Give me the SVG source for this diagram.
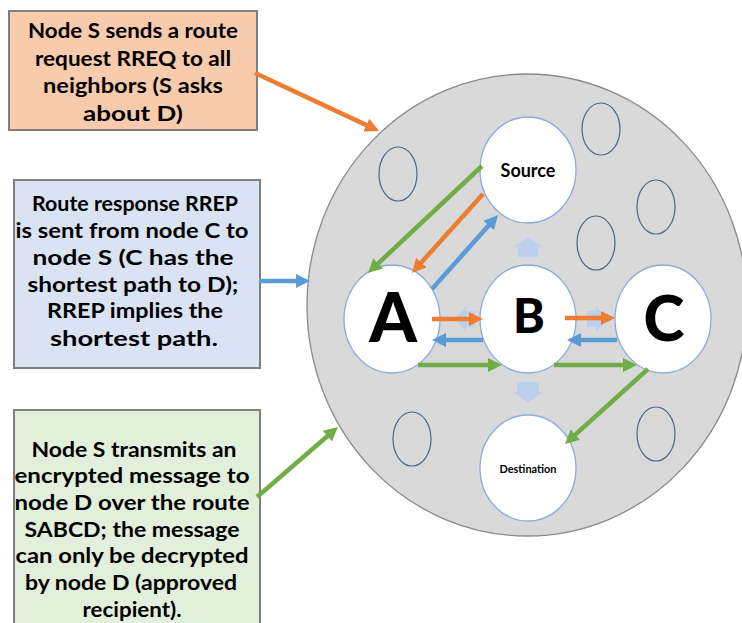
<svg xmlns="http://www.w3.org/2000/svg" width="742" height="623" viewBox="0 0 742 623">
  <style>
    .box { stroke: #7f7f7f; stroke-width: 2; }
    .note { font-family: Lato, "Open Sans", "Liberation Sans", sans-serif; font-weight: 700; font-size: 21px; fill: #000; text-anchor: middle; }
    .node { fill: #ffffff; stroke: #8eaadb; stroke-width: 1.3; }
    .peer { fill: none; stroke: #4a6788; stroke-width: 1.2; }
    .label { font-family: Lato, "Open Sans", "Liberation Sans", sans-serif; font-weight: 700; fill: #000; text-anchor: middle; }
    .big { font-weight: 900; }
    .hint { fill: #bccfec; }
    .c-or { stroke: #ed7d31; stroke-width: 4.5; fill: none; marker-end: url(#head-or); }
    .c-bl { stroke: #5b9bd5; stroke-width: 4.5; fill: none; marker-end: url(#head-bl); }
    .c-gr { stroke: #70ad47; stroke-width: 4.5; fill: none; marker-end: url(#head-gr); }
  </style>
  <defs>
    <marker id="head-or" viewBox="0 0 14 14" refX="6" refY="7" markerWidth="14" markerHeight="14" markerUnits="userSpaceOnUse" orient="auto">
      <path d="M0,0 L14,7 L0,14 z" fill="#ed7d31"/>
    </marker>
    <marker id="head-bl" viewBox="0 0 14 14" refX="6" refY="7" markerWidth="14" markerHeight="14" markerUnits="userSpaceOnUse" orient="auto">
      <path d="M0,0 L14,7 L0,14 z" fill="#5b9bd5"/>
    </marker>
    <marker id="head-gr" viewBox="0 0 14 14" refX="6" refY="7" markerWidth="14" markerHeight="14" markerUnits="userSpaceOnUse" orient="auto">
      <path d="M0,0 L14,7 L0,14 z" fill="#70ad47"/>
    </marker>
  </defs>

  <rect width="742" height="623" fill="#ffffff"/>

  <!-- network area -->
  <g id="network">
    <ellipse cx="527" cy="305" rx="220" ry="231" fill="#d9d9d9" stroke="#8a8a8a" stroke-width="1.3"/>
  </g>

  <!-- idle peers -->
  <g id="peers">
    <ellipse class="peer" cx="398" cy="174" rx="19" ry="27"/>
    <ellipse class="peer" cx="601" cy="129" rx="19" ry="26"/>
    <ellipse class="peer" cx="656" cy="207" rx="19" ry="27"/>
    <ellipse class="peer" cx="596" cy="243" rx="19" ry="27"/>
    <ellipse class="peer" cx="412" cy="439" rx="19" ry="27" fill="#cfcdcd"/>
    <ellipse class="peer" cx="656" cy="434" rx="19" ry="27"/>
  </g>

  <!-- broadcast hints -->
  <g id="hints">
    <path class="hint" d="M528,237 L543,247 L538,247 L538,257 L518,257 L518,247 L513,247 z"/>
    <path class="hint" d="M517,382 L539,382 L539,392 L543,392 L528,403 L513,392 L517,392 z"/>
    <path class="hint" d="M455,319 L466,306 L466,311 L475,311 L475,327 L466,327 L466,332 z"/>
    <path class="hint" d="M607,319 L596,306 L596,311 L587,311 L587,327 L596,327 L596,332 z"/>
  </g>

  <!-- nodes -->
  <g id="node-source">
    <ellipse class="node" cx="528" cy="170" rx="48" ry="53"/>
    <text class="label" x="528" y="177" font-size="18">Source</text>
  </g>
  <g id="node-a">
    <ellipse class="node" cx="392" cy="319" rx="48" ry="54"/>
    <text class="label big" x="393" y="342" font-size="68">A</text>
  </g>
  <g id="node-b">
    <ellipse class="node" cx="528" cy="319" rx="48" ry="54"/>
    <text class="label big" x="529" y="333" font-size="48">B</text>
  </g>
  <g id="node-c">
    <ellipse class="node" cx="663" cy="319" rx="48" ry="54"/>
    <text class="label big" x="664" y="341" font-size="62">C</text>
  </g>
  <g id="node-destination">
    <ellipse class="node" cx="528" cy="468" rx="48" ry="53"/>
    <text class="label" x="528" y="473" font-size="12" textLength="57" lengthAdjust="spacingAndGlyphs">Destination</text>
  </g>

  <!-- notes -->
  <g id="note-rreq">
    <rect class="box" x="9" y="11" width="248" height="119" fill="#f8cbad"/>
    <text class="note" x="133" y="38" textLength="210" lengthAdjust="spacingAndGlyphs">Node S sends a route</text>
    <text class="note" x="133" y="66" textLength="196" lengthAdjust="spacingAndGlyphs">request RREQ to all</text>
    <text class="note" x="133" y="93" textLength="180" lengthAdjust="spacingAndGlyphs">neighbors (S asks</text>
    <text class="note" x="133" y="121" textLength="100" lengthAdjust="spacingAndGlyphs">about D)</text>
  </g>
  <g id="note-rrep">
    <rect class="box" x="14" y="180" width="246" height="188" fill="#dae3f3"/>
    <text class="note" x="135" y="211" textLength="206" lengthAdjust="spacingAndGlyphs">Route response RREP</text>
    <text class="note" x="132" y="238" textLength="233" lengthAdjust="spacingAndGlyphs">is sent from node C to</text>
    <text class="note" x="133" y="265" textLength="201" lengthAdjust="spacingAndGlyphs">node S (C has the</text>
    <text class="note" x="133" y="292" textLength="211" lengthAdjust="spacingAndGlyphs">shortest path to D);</text>
    <text class="note" x="135" y="318" textLength="176" lengthAdjust="spacingAndGlyphs">RREP implies the</text>
    <text class="note" x="134" y="346" textLength="168" lengthAdjust="spacingAndGlyphs">shortest path.</text>
  </g>
  <g id="note-data">
    <rect class="box" x="14" y="410" width="246" height="222" fill="#e2efda"/>
    <text class="note" x="134" y="457" textLength="205" lengthAdjust="spacingAndGlyphs">Node S transmits an</text>
    <text class="note" x="132" y="483" textLength="235" lengthAdjust="spacingAndGlyphs">encrypted message to</text>
    <text class="note" x="132" y="510" textLength="235" lengthAdjust="spacingAndGlyphs">node D over the route</text>
    <text class="note" x="132" y="537" textLength="215" lengthAdjust="spacingAndGlyphs">SABCD; the message</text>
    <text class="note" x="132" y="563" textLength="233" lengthAdjust="spacingAndGlyphs">can only be decrypted</text>
    <text class="note" x="131" y="590" textLength="212" lengthAdjust="spacingAndGlyphs">by node D (approved</text>
    <text class="note" x="132" y="617" textLength="99" lengthAdjust="spacingAndGlyphs">recipient).</text>
  </g>

  <!-- connectors -->
  <g id="connectors">
    <!-- route request (orange) -->
    <line class="c-or" x1="255" y1="73" x2="371.8" y2="127.6"/>
    <line class="c-or" x1="483" y1="194" x2="417.3" y2="267"/>
    <line class="c-or" x1="432" y1="319" x2="475" y2="319"/>
    <line class="c-or" x1="565" y1="318" x2="607" y2="318"/>
    <!-- route reply (blue) -->
    <line class="c-bl" x1="259" y1="281" x2="302" y2="281"/>
    <line class="c-bl" x1="432" y1="289" x2="492.7" y2="221"/>
    <line class="c-bl" x1="483" y1="340" x2="440" y2="340"/>
    <line class="c-bl" x1="617" y1="340" x2="575" y2="340"/>
    <!-- data transfer (green) -->
    <line class="c-gr" x1="257" y1="497" x2="331.9" y2="432.2"/>
    <line class="c-gr" x1="482" y1="166" x2="373.8" y2="267.5"/>
    <line class="c-gr" x1="418" y1="365" x2="494" y2="365"/>
    <line class="c-gr" x1="554" y1="365" x2="629" y2="365"/>
    <line class="c-gr" x1="648" y1="369" x2="570.9" y2="438.6"/>
  </g>
</svg>
